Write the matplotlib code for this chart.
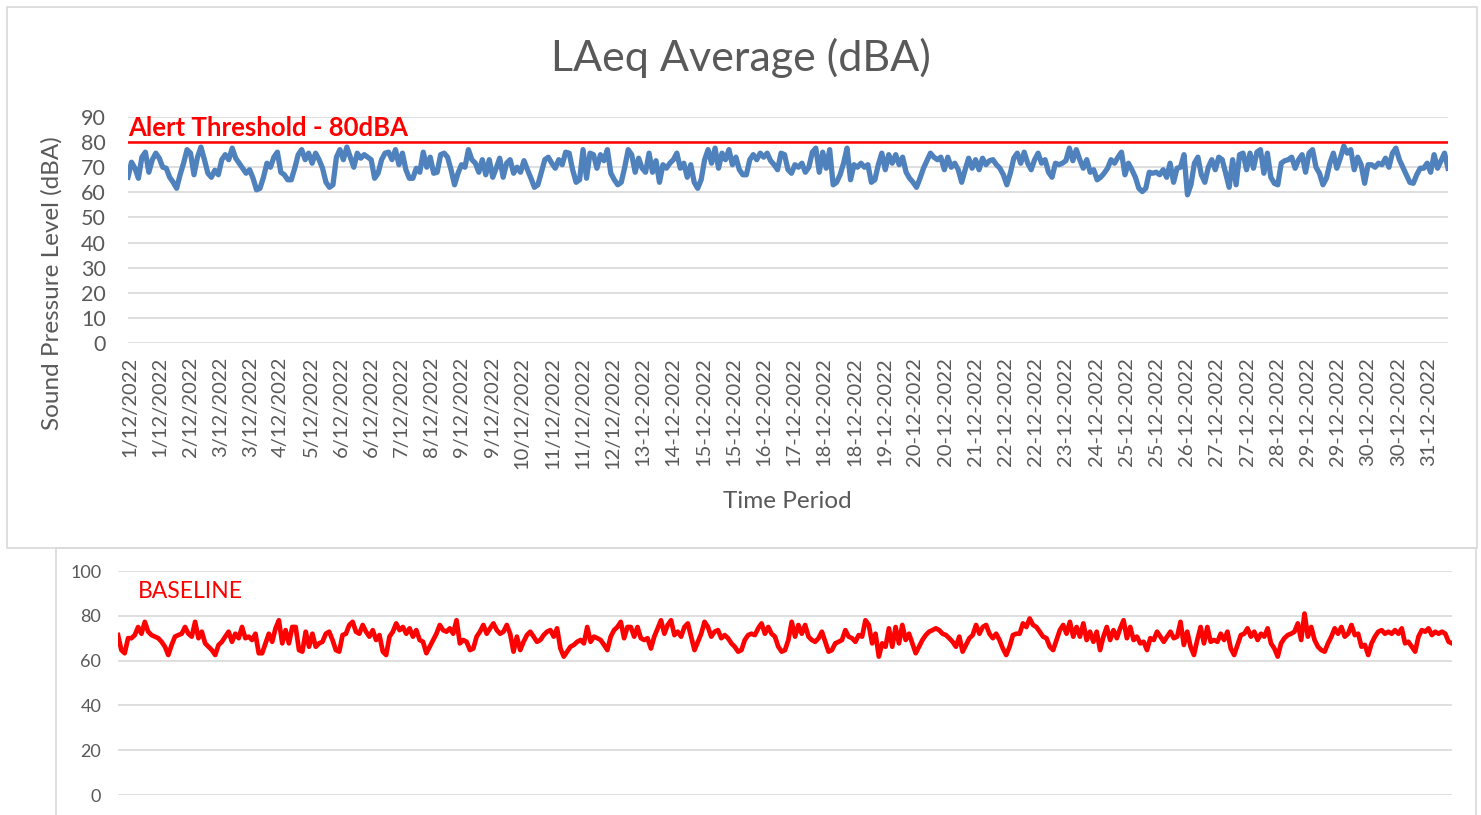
import numpy as np
import matplotlib
matplotlib.use("Agg")
import matplotlib.pyplot as plt
from matplotlib.patches import Rectangle

plt.rcParams['font.family'] = ['Lato', 'DejaVu Sans']

# LAeq readings, December 2022
laeq_db = [
    66, 72, 69.6, 65.6, 74, 76, 68, 73, 75.6, 73.6, 70, 69.6, 66, 64, 61.6, 67, 71.6, 77, 75.6, 67,
    74, 78, 73, 67.6, 66, 68.8, 67, 73, 75, 73, 77.6, 73.6, 71.6, 69.6, 67.6, 69, 65.6, 61, 61.6, 66,
    71.6, 70, 74, 76, 68, 67, 65, 65, 69.6, 75, 77, 73, 75.6, 71.6, 75.6, 73, 69.6, 64, 62, 63,
    74, 77, 73, 78, 74, 70, 75.6, 73.6, 75, 74, 73, 65.6, 67.6, 73, 75.6, 76, 73, 77, 71, 75.6,
    69, 65.6, 65.6, 69.6, 68, 76, 70, 74, 67.6, 68, 75, 75.6, 74, 69, 63, 67.6, 71, 70, 77, 73,
    71.6, 68, 73, 67, 73, 66, 69.6, 73.6, 66, 71.6, 73, 67.6, 70, 68, 72.6, 69, 65.6, 62, 63, 68,
    73, 74,
    71.6, 69.6, 73, 71, 76, 75.6, 69, 64, 65, 77, 65.6, 75.6, 75, 69.6, 75, 72.6, 77, 67.6, 65, 63,
    64, 70, 77, 75, 68, 73.6, 69.6, 68, 75.6, 68, 72.6, 64, 71, 69.6, 71.6, 73, 75.6, 69.6, 71.6, 66,
    71, 64, 61.6, 65, 73, 77, 71.6, 77.6, 69.6, 75.6, 73, 77, 71, 74, 69, 67, 67, 73, 75, 73,
    75.6, 74, 75.6, 72.6,
    71, 69, 75.6, 75, 69, 67.6, 71, 70, 71.6, 68, 70, 76, 77.6, 68, 76, 69.6, 77, 63, 64, 67,
    71.6, 77.6, 65, 71, 70, 71.6, 70, 71, 64, 65, 71, 75.6, 69, 75, 71.6, 75, 71, 74, 68, 65.6,
    64, 62, 65.6, 69.6, 72.6, 75.6, 74, 73, 74, 69, 74, 70, 71.6, 69, 64, 69, 73.6, 69.6, 73, 69,
    73.6, 71, 72.6, 73,
    71, 69.6, 67, 63, 67.6, 73.6, 75.6, 71.6, 76, 71.6, 69, 73, 75.6, 71.6, 73, 68, 66, 71.6, 71, 71.6,
    72.6, 77.6, 72.6, 77, 73, 69.6, 73, 68, 69, 65, 66, 67.6, 69.6, 73, 71.6, 74, 76, 67, 71.6, 69,
    66, 61.6, 60.3, 61.6, 68, 67.6, 68, 67, 69, 66, 71.6, 64, 69.6, 70, 75, 59, 63, 71.6, 74, 67,
    64, 70, 73, 69, 74, 73,
    67.6, 62, 73, 63, 75, 75.6, 69, 75.6, 69.6, 76, 77, 67.6, 75.6, 66, 63.6, 63, 71.6, 72.6, 73, 74,
    69.6, 73, 75, 68, 75.6, 77, 70, 67.6, 63, 65.6, 71.6, 75.6, 69.6, 73.6, 78.4, 75.6, 77, 69, 74, 71,
    63.6, 71, 71, 70, 71.6, 71, 73.6, 70, 75.6, 77.6, 73, 70, 67, 64, 63.6, 67, 69.6, 69.6, 71.6, 68,
    75, 69.6, 72.6, 75.6, 69.6,
]

baseline_db = [
    71.4, 64.7, 63.3, 70, 70, 71.4, 75, 72, 77.3, 72.9, 71.4, 70.7, 70, 68.4, 66.2, 62.5, 67, 70.7, 71.4, 72,
    75, 72, 70.7, 77.3, 70, 72.9, 67.7, 66.2, 64.7, 62.5, 67, 68.4, 70.7, 72.9, 68.4, 72, 70, 75, 70, 70.7,
    69.2, 72, 63.3, 63.3, 67.7, 72, 68.4, 74.4, 78, 67.7, 73.6, 67.7, 75, 75, 64.7, 64, 72.9, 66.2, 72, 66.2,
    67.7, 68.4, 72, 72.9,
    69.2, 64.7, 64, 71.4, 72, 75.9, 77.3, 72.9, 72, 75.9, 72.9, 70.7, 73.6, 69.2, 71.4, 64, 62.5, 70.7, 72.9, 76.6,
    73.6, 75, 72, 74.4, 70.7, 73.6, 69.2, 68.4, 63.3, 66.2, 69.2, 72, 75.9, 73.6, 72.9, 74.4, 72, 78, 67.7, 69.2,
    68.4, 64.7, 65.4, 70.7, 72.9, 75.9, 72, 74.4, 76.6, 73.6, 72, 72.9, 75.9, 72, 64, 70.7, 64.7, 68.4, 71.4, 72.9,
    70.7, 68.4, 69.2, 71.4, 72.9, 73.6,
    70.7, 74.4, 65.4, 61.8, 64, 66.2, 67, 68.4, 69.2, 67.7, 75, 68.4, 70.7, 70, 69.2, 67, 64.7, 70.7, 73.6, 75,
    77.3, 70, 75, 75, 70.7, 75, 70, 69.2, 70, 65.4, 70.7, 74.4, 78, 72, 75.9, 78, 71.4, 72.9, 70.7, 75,
    76.6, 70.7, 64.7, 68.4, 72, 77.3, 75, 70.7, 72.9, 73.6, 70, 71.4, 70, 67.7, 66.2, 64, 64.7, 69.2, 71.4, 72,
    71.4, 74.4, 76.6, 72, 75, 72,
    70.7, 66.2, 64, 64.7, 69.2, 77.3, 70.7, 75.9, 72, 75.9, 70.7, 69.2, 68.4, 70, 72.9, 68.4, 64, 64.7, 67.7, 68.4,
    69.2, 73.6, 70.7, 70, 68.4, 71.4, 70.7, 78, 75.9, 67.7, 72, 61.8, 67.7, 66.2, 74.4, 66.2, 75, 67.7, 75.9, 69.2,
    72, 67.7, 63.3, 66.2, 69.2, 71.4, 72.9, 73.6, 74.4, 73.6, 72, 71.4, 70, 68.4, 66.2, 70.7, 64, 67, 70, 71.4,
    75.9, 72, 75, 75.9, 72, 70,
    72, 69.2, 65.4, 62.5, 66.2, 71.4, 72, 72, 76.6, 75, 78.8, 75.9, 75, 72.9, 70.7, 70, 66.2, 64.7, 69.2, 73.6,
    75.9, 72, 77.3, 70.7, 75, 70.7, 76.6, 69.2, 72.9, 68.4, 72.9, 64.7, 70.7, 75, 69.2, 73.6, 70, 74.4, 78, 70,
    75, 69.2, 70.7, 67.7, 68.4, 64.7, 70, 69.2, 72.9, 70.7, 68.4, 70.7, 72.9, 70, 70.7, 77.3, 67, 72.9, 66.2, 62.5,
    69.2, 75, 67.7, 75, 68.4, 69.2, 68.4,
    72, 69.2, 72.9, 65.4, 62.5, 67, 71.4, 72, 74.4, 70.7, 72.9, 69.2, 72, 70.7, 74.4, 67.7, 65.4, 61.8, 67.7, 70,
    71.4, 72, 72.9, 76.6, 69.2, 81, 70.7, 75, 69.2, 66.2, 64.7, 64, 67.7, 70.7, 74.4, 72, 75, 70.7, 72, 75.9,
    71.4, 72, 66.2, 67, 62.5, 67.7, 70.7, 72.9, 73.6, 72, 72.9, 72, 73.6, 72, 74.4, 67.7, 68.4, 66.2, 64, 70.7,
    73.6, 72.9, 74.4, 71.4, 72.9, 72, 72.9, 72, 68.4, 67.7,
]

date_labels = [
    '1/12/2022', '1/12/2022', '2/12/2022', '3/12/2022', '3/12/2022', '4/12/2022', '5/12/2022',
    '6/12/2022', '6/12/2022', '7/12/2022', '8/12/2022', '9/12/2022', '9/12/2022', '10/12/2022',
    '11/12/2022', '11/12/2022', '12/12/2022', '13-12-2022', '14-12-2022', '15-12-2022', '15-12-2022',
    '16-12-2022', '17-12-2022', '18-12-2022', '18-12-2022', '19-12-2022', '20-12-2022', '20-12-2022',
    '21-12-2022', '22-12-2022', '22-12-2022', '23-12-2022', '24-12-2022', '25-12-2022', '25-12-2022',
    '26-12-2022', '27-12-2022', '27-12-2022', '28-12-2022', '29-12-2022', '29-12-2022', '30-12-2022',
    '30-12-2022', '31-12-2022',
]

alert_level = 80
W, H = 1481, 815
GRAY = '#595959'
GRID = '#d9d9d9'


def px_axes(fig, x0, x1, y_top, y_bot):
    """ Axes from pixel box (origin top-left) """
    return fig.add_axes([x0 / W, 1 - y_bot / H, (x1 - x0) / W, (y_bot - y_top) / H])


def style_axes(ax, ticks, fs, pad):
    for s in ax.spines.values():
        s.set_visible(False)
    ax.set_yticks(ticks)
    ax.grid(axis='y', color=GRID, linewidth=1.2)
    ax.set_axisbelow(True)
    ax.tick_params(axis='y', length=0, labelcolor=GRAY, labelsize=fs, pad=pad)


fig = plt.figure(figsize=(W / 100, H / 100), dpi=100)

# chart frames
fig.add_artist(Rectangle((7 / W, 1 - 548 / H), 1470 / W, 541 / H, transform=fig.transFigure,
                         fill=False, edgecolor=GRID, linewidth=1.2))
fig.add_artist(Rectangle((56 / W, -0.05), 1420 / W, 1 - 548 / H + 0.05, transform=fig.transFigure,
                         fill=False, edgecolor=GRID, linewidth=1.2))

# top chart
ax = px_axes(fig, 128, 1448, 117, 343)
x = np.arange(len(laeq_db))
ax.plot(x, laeq_db, color='#4f81bd', linewidth=3.8, solid_joinstyle='round')
ax.axhline(alert_level, color='#ff0000', linewidth=1.8)
ax.set_xlim(0, len(laeq_db) - 1)
ax.set_ylim(0, 90)
style_axes(ax, range(0, 91, 10), 15.5, 16)
ax.grid(axis='x', visible=False)
step = (len(laeq_db) - 1) * 30.2 / 1320
ax.set_xticks(np.arange(len(date_labels)) * step + 0.5)
ax.set_xticklabels(date_labels, rotation=90, fontsize=14.5, color=GRAY)
ax.tick_params(axis='x', length=0, pad=10)
ax.text(0.003, 81.0, 'Alert Threshold - 80dBA', color='#ff0000', fontsize=18.5,
        fontweight='bold', va='bottom', ha='left')
fig.text(52 / W, 1 - 283 / H, 'Sound Pressure Level (dBA)', rotation=90, ha='center',
         va='center', fontsize=17.5, color=GRAY)
fig.text(787 / W, 1 - 501 / H, 'Time Period', ha='center', va='center',
         fontsize=17.5, color=GRAY)
fig.text(741 / W, 1 - 58 / H, 'LAeq Average (dBA)', ha='center', va='center',
         fontsize=31, color=GRAY)

# baseline chart
bx = px_axes(fig, 118, 1452, 571, 795)
xb = np.arange(len(baseline_db))
bx.plot(xb, baseline_db, color='#ff0000', linewidth=3.4, solid_joinstyle='round')
bx.set_xlim(0, len(baseline_db) - 1)
bx.set_ylim(0, 100)
style_axes(bx, range(0, 101, 20), 13, 12)
bx.set_xticks([])
bx.text(0.015, 0.91, 'BASELINE', transform=bx.transAxes, color='#ff0000', fontsize=16.5,
        va='center', ha='left')

fig.savefig('out.png', dpi=100)
